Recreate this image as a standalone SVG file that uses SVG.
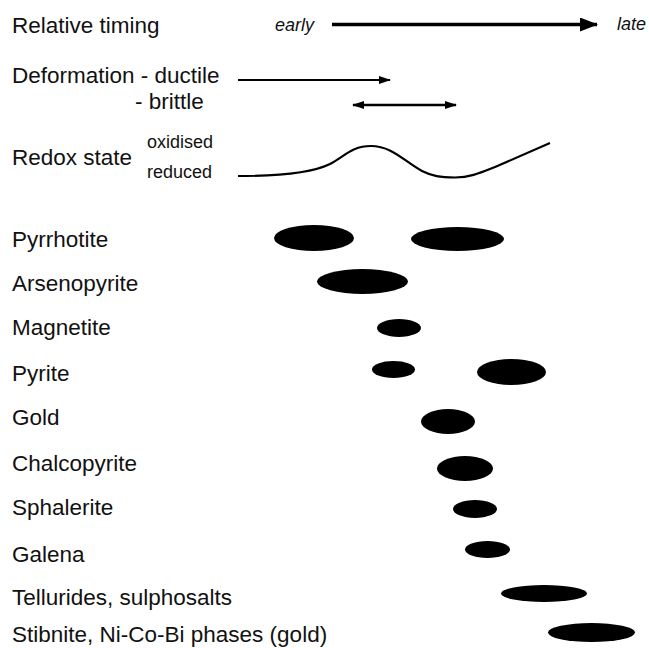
<svg xmlns="http://www.w3.org/2000/svg" width="649" height="648" viewBox="0 0 649 648">
<style>
text{font-family:"Liberation Sans",Arial,sans-serif;fill:#111}
.lbl{font-size:22.5px}
.sm{font-size:18px}
.it{font-size:18px;font-style:italic}
.bar{fill:#000}
.ln{stroke:#000;fill:none}
</style>
<defs>
<marker id="hBig" viewBox="0 0 18 14" refX="17" refY="7" markerWidth="18" markerHeight="14" markerUnits="userSpaceOnUse" orient="auto"><path d="M0,0 L18,7 L0,14 z" fill="#000"/></marker>
<marker id="hSm" viewBox="0 0 12 8" refX="11" refY="4" markerWidth="12" markerHeight="8" markerUnits="userSpaceOnUse" orient="auto-start-reverse"><path d="M0,0 L12,4 L0,8 z" fill="#000"/></marker>
</defs>
<rect width="649" height="648" fill="#fff"/>
<g id="timing">
<text class="lbl" x="12" y="33">Relative timing</text>
<text class="it" x="275" y="31">early</text>
<text class="it" x="617" y="30">late</text>
</g>
<g id="deformation">
<text class="lbl" x="12" y="83">Deformation - ductile</text>
<text class="lbl" x="135" y="109">- brittle</text>
</g>
<g id="redox">
<text class="lbl" x="12" y="165">Redox state</text>
<text class="sm" x="147" y="148">oxidised</text>
<text class="sm" x="147" y="178">reduced</text>
</g>
<g id="connectors">
<line class="ln" x1="332" y1="24.5" x2="597" y2="24.5" stroke-width="3.5" marker-end="url(#hBig)"/>
<line class="ln" x1="238" y1="80" x2="390" y2="80" stroke-width="2" marker-end="url(#hSm)"/>
<line class="ln" x1="353" y1="105" x2="456" y2="105" stroke-width="2.5" marker-start="url(#hSm)" marker-end="url(#hSm)"/>
<path class="ln" stroke-width="2.2" d="M238,176 C290,176 318,170 330,164 C345,156 352,146 371,146 C392,146 405,162 422,171 C432,176 440,177.5 455,177.5 C470,177.5 480,173 495,167 L550,143"/>
</g>
<g id="pyrrhotite"><text class="lbl" x="12" y="246.5">Pyrrhotite</text><ellipse class="bar" cx="314" cy="238" rx="40" ry="13"/><ellipse class="bar" cx="457.5" cy="239" rx="46.5" ry="12"/></g>
<g id="arsenopyrite"><text class="lbl" x="12" y="290.5">Arsenopyrite</text><ellipse class="bar" cx="362.5" cy="281.5" rx="45.5" ry="12.5"/></g>
<g id="magnetite"><text class="lbl" x="12" y="335">Magnetite</text><ellipse class="bar" cx="399" cy="328" rx="22" ry="9"/></g>
<g id="pyrite"><text class="lbl" x="12" y="381">Pyrite</text><ellipse class="bar" cx="393.5" cy="369.5" rx="21.5" ry="8.5"/><ellipse class="bar" cx="511.5" cy="372" rx="34.5" ry="13"/></g>
<g id="gold"><text class="lbl" x="12" y="425">Gold</text><ellipse class="bar" cx="448" cy="421.5" rx="27" ry="12.5"/></g>
<g id="chalcopyrite"><text class="lbl" x="12" y="470.5">Chalcopyrite</text><ellipse class="bar" cx="465" cy="468.5" rx="28" ry="12.5"/></g>
<g id="sphalerite"><text class="lbl" x="12" y="514.5">Sphalerite</text><ellipse class="bar" cx="475" cy="509" rx="22" ry="9"/></g>
<g id="galena"><text class="lbl" x="12" y="561.5">Galena</text><ellipse class="bar" cx="487.5" cy="549.5" rx="22.5" ry="8.5"/></g>
<g id="tellurides"><text class="lbl" x="12" y="605">Tellurides, sulphosalts</text><ellipse class="bar" cx="544" cy="593.5" rx="43" ry="8.5"/></g>
<g id="stibnite"><text class="lbl" x="12" y="642">Stibnite, Ni-Co-Bi phases (gold)</text><ellipse class="bar" cx="591.5" cy="632.5" rx="43.5" ry="9.5"/></g>
</svg>
